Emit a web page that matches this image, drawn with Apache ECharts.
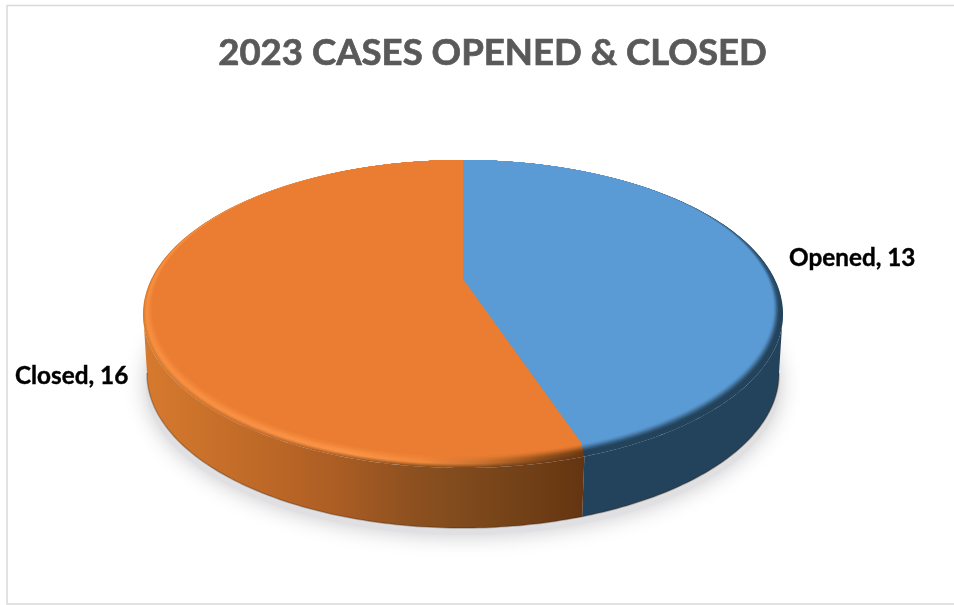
<!DOCTYPE html>
<html>
<head>
<meta charset="utf-8">
<style>html,body{margin:0;padding:0;background:#fff}#chart{width:954px;height:605px}</style>
<script src="https://cdn.jsdelivr.net/npm/echarts@6/dist/echarts.min.js"></script>
</head>
<body>
<div id="chart"></div>
<script>
// Case counts for 2023
const chartTitle = '2023 CASES OPENED & CLOSED';
const categories = ['Opened', 'Closed'];
const caseCounts = [13, 16];

// Label anchors and colours per category
const labelAnchors = [[789, 258], [15, 376]];
const faceColors = ['#5b9bd5', '#ea7d31'];

// Disk geometry: each rim is a circle under perspective, described by where its
// far edge, centre and near edge land on screen, plus its half width.
const centerX = 463;
const rimFace = { top: 160, mid: 279, bottom: 455, half: 310 };
const rimOuter = { top: 160, mid: 286, bottom: 468, half: 320 };
const rimFoot = { top: 220, mid: 347, bottom: 528, half: 316 };

const sideStops = [
  [[0, '#23425b'], [1, '#23425b']],
  [[0, '#d67a2e'], [0.25, '#c06a28'], [0.43, '#ad5e24'], [0.6, '#8f5120'], [0.73, '#7f4a1c'], [0.9, '#6f3e16'], [1, '#653512']]
];
const glowStops = [
  [[0, '#5b9bd5'], [0.3, '#4d85b6'], [0.6, '#2f587a'], [1, '#23425b']],
  [[0, '#f78e40'], [0.47, '#fb9448'], [0.63, '#f28a3c'], [0.77, '#c97130'], [0.9, '#8f4f1c'], [1, '#6f3c14']]
];
// Gradients run vertically down the blue slice and left to right across the orange one.
const gradientAxes = [[0, 160, 0, 320], [143, 0, 583, 0]];
const RING_COUNT = 16;

function hexToRgb(h) {
  return [1, 3, 5].map(i => parseInt(h.substr(i, 2), 16));
}
function mixRgb(a, b, t) {
  const p = hexToRgb(a), q = hexToRgb(b);
  return p.map((v, i) => Math.round(v + (q[i] - v) * t));
}
function rgbToHex(c) {
  return '#' + c.map(v => v.toString(16).padStart(2, '0')).join('');
}
function gradient(axis, stops) {
  return new echarts.graphic.LinearGradient(axis[0], axis[1], axis[2], axis[3],
    stops.map(s => ({ offset: s[0], color: s[1] })), true);
}
function sampleStops(stops, x) {
  for (let i = 1; i < stops.length; i++) {
    if (x <= stops[i][0]) {
      const f = (x - stops[i - 1][0]) / (stops[i][0] - stops[i - 1][0]);
      return rgbToHex(mixRgb(stops[i - 1][1], stops[i][1], f));
    }
  }
  return stops[stops.length - 1][1];
}
// Colour of a bevel ring: side colour at the outer edge, highlight shortly inside, then the face.
function ringStops(index, t) {
  const face = faceColors[index];
  const offsets = Array.from(new Set(sideStops[index].concat(glowStops[index]).map(s => s[0]))).sort((a, b) => a - b);
  return offsets.map(x => {
    const side = sampleStops(sideStops[index], x);
    const glow = sampleStops(glowStops[index], x);
    const eased = t < 0.3 ? 0 : (t - 0.3) / 0.7;
    const c = t < 0.3
      ? mixRgb(side, glow, t / 0.3)
      : mixRgb(glow, face, eased * eased * (3 - 2 * eased));
    return [x, rgbToHex(c)];
  });
}

function lerpRim(a, b, t) {
  const out = {};
  for (const k in a) out[k] = a[k] + (b[k] - a[k]) * t;
  return out;
}
// Maps an angle (clockwise from the far edge) onto a rim in perspective.
function rimPoint(rim, angle) {
  const c = (2 * rim.mid - rim.top - rim.bottom) / (rim.bottom - rim.top);
  const a = rim.bottom * (1 + c) - rim.mid;
  const d = rim.half * Math.sqrt(1 - c * c);
  const u = Math.sin(angle), v = -Math.cos(angle), w = 1 + c * v;
  return [centerX + d * u / w, (a * v + rim.mid) / w];
}
function arcPoints(rim, from, to) {
  const steps = Math.max(2, Math.ceil(Math.abs(to - from) / 0.015));
  const pts = [];
  for (let i = 0; i <= steps; i++) pts.push(rimPoint(rim, from + (to - from) * i / steps));
  return pts;
}
function sliceAngles(index) {
  const total = caseCounts.reduce((s, v) => s + v, 0);
  const before = caseCounts.slice(0, index).reduce((s, v) => s + v, 0);
  return [before / total * Math.PI * 2, (before + caseCounts[index]) / total * Math.PI * 2];
}

function renderSlice(params) {
  const i = params.dataIndex;
  const [start, end] = sliceAngles(i);
  const children = [];

  // Only the near half of the wall is visible; clamp to the silhouette angle.
  const silhouette = 1.74;
  const wallFrom = Math.max(start, silhouette);
  const wallTo = Math.min(end, Math.PI * 2 - silhouette);
  const wall = arcPoints(rimOuter, wallFrom, wallTo).concat(arcPoints(rimFoot, wallTo, wallFrom));
  children.push({
    type: 'polygon', z2: 1, shape: { points: wall },
    style: { fill: gradient(gradientAxes[i], sideStops[i]) }
  });
  // Darker lip along the bottom of the wall
  children.push({
    type: 'polyline', z2: 2, shape: { points: arcPoints(rimFoot, wallFrom, wallTo) },
    style: { fill: 'none', stroke: 'rgba(50,25,5,0.3)', lineWidth: 1.5 }
  });

  // Bevel: nested sectors from the outer rim in to the flat face.
  for (let k = 0; k <= RING_COUNT; k++) {
    const t = k / RING_COUNT;
    const rim = lerpRim(rimOuter, rimFace, t);
    const pts = [[centerX, rim.mid]].concat(arcPoints(rim, start, end));
    const fill = k === RING_COUNT ? faceColors[i] : gradient(gradientAxes[i], ringStops(i, t));
    children.push({
      type: 'polygon', z2: 3 + k, shape: { points: pts },
      style: { fill: fill }
    });
  }

  // Category label
  children.push({
    type: 'text', z2: 40,
    style: {
      text: categories[i] + ', ' + caseCounts[i],
      x: labelAnchors[i][0], y: labelAnchors[i][1],
      fill: '#000000', fontFamily: 'Lato', fontWeight: 'bold', fontSize: 24.3,
      stroke: '#000000', lineWidth: 0.4,
      textAlign: 'left', textVerticalAlign: 'middle'
    }
  });
  return { type: 'group', children: children };
}

// Soft drop shadow: the ellipse itself stays hidden behind the wall, only its blur shows.
function renderShadow() {
  return {
    type: 'ellipse',
    shape: { cx: centerX, cy: 384, rx: 317, ry: 151 },
    style: { fill: '#e0e0e2', shadowBlur: 22, shadowColor: '#c8c8cc' }
  };
}

const chart = echarts.init(document.getElementById('chart'), null, { renderer: 'canvas' });
chart.setOption({
  animation: false,
  backgroundColor: '#ffffff',
  title: {
    text: chartTitle, left: 487.5, top: 30, textAlign: 'center',
    textStyle: {
      fontFamily: 'Lato', fontWeight: 'bold', fontSize: 36.6, color: '#595959',
      textBorderColor: '#595959', textBorderWidth: 0.7
    }
  },
  graphic: [
    { type: 'polyline', shape: { points: [[954, 5.5], [7, 5.5], [7, 604], [954, 604]] },
      style: { fill: 'none', stroke: '#d9d9d9', lineWidth: 1.5 } }
  ],
  series: [
    { type: 'custom', name: 'shadow', z: 1, coordinateSystem: 'none', data: [0], renderItem: renderShadow, silent: true },
    { type: 'custom', name: 'Cases', z: 2, coordinateSystem: 'none',
      data: categories.map((name, i) => ({ name: name, value: caseCounts[i] })),
      renderItem: renderSlice, silent: true }
  ]
});
</script>
</body>
</html>
